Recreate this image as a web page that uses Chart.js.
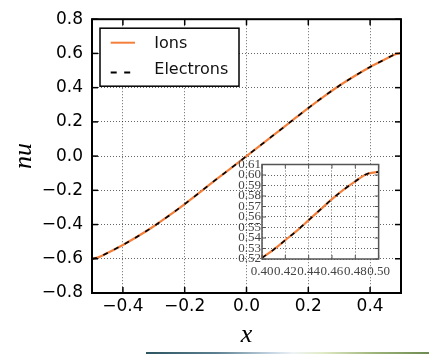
<!DOCTYPE html>
<html><head><meta charset="utf-8">
<script src="https://cdn.jsdelivr.net/npm/chart.js@4"></script>
<style>
html,body{margin:0;padding:0;background:#fff;}
#wrap{position:relative;width:429px;height:354px;overflow:hidden;background:#fff;}
#main{position:absolute;left:0;top:0;}
#inset{position:absolute;left:225px;top:150px;}
#bar{position:absolute;left:146px;top:352px;width:283px;height:2px;
background:linear-gradient(to right,#2c5560 0%,#5d8090 25%,#c9d8e6 45%,#eef3f6 52%,#e2ecc8 62%,#9fb67c 80%,#6d8a52 100%);}
</style></head><body>
<div id="wrap">
<canvas id="main" width="429" height="354"></canvas>
<canvas id="inset" width="170" height="135"></canvas>
<div id="bar"></div>
</div>
<script>
// ---- data ----
const seriesNames = ['Ions', 'Electrons'];
const xMain = [-0.5, -0.48, -0.45, -0.4, -0.35, -0.3, -0.25, -0.2, -0.15, -0.1, -0.05, 0, 0.05, 0.1, 0.15, 0.2, 0.25, 0.3, 0.35, 0.4, 0.45, 0.48, 0.5];
const ionsMain = [-0.600, -0.592, -0.566, -0.519, -0.467, -0.410, -0.347, -0.280, -0.210, -0.139, -0.070, 0.000, 0.070, 0.140, 0.211, 0.281, 0.348, 0.411, 0.468, 0.521, 0.567, 0.594, 0.603];
const electronsMain = [-0.600, -0.592, -0.566, -0.519, -0.467, -0.410, -0.347, -0.280, -0.210, -0.139, -0.070, 0.000, 0.070, 0.140, 0.211, 0.281, 0.348, 0.411, 0.468, 0.521, 0.567, 0.594, 0.603];
const xInset = [0.40, 0.41, 0.42, 0.43, 0.44, 0.45, 0.46, 0.47, 0.48, 0.49, 0.50];
const ionsInset = [0.521, 0.529, 0.538, 0.547, 0.557, 0.567, 0.577, 0.586, 0.594, 0.601, 0.603];
const electronsInset = [0.521, 0.529, 0.538, 0.547, 0.557, 0.567, 0.577, 0.586, 0.594, 0.601, 0.603];
const xTicksMain = [-0.4, -0.2, 0.0, 0.2, 0.4];
const yTicksMain = [-0.8, -0.6, -0.4, -0.2, 0.0, 0.2, 0.4, 0.6, 0.8];
const xTicksInset = [0.40, 0.42, 0.44, 0.46, 0.48, 0.50];
const yTicksInset = [0.52, 0.53, 0.54, 0.55, 0.56, 0.57, 0.58, 0.59, 0.60, 0.61];

// ---- styles ----
const ORANGE = 'rgb(244,127,58)';
Chart.defaults.font.family = 'DejaVu Sans';
Chart.defaults.animation = false;

const pts = (xs, ys) => xs.map((x, i) => ({x: x, y: ys[i]}));
const fmt1 = v => (Math.abs(v) < 1e-9 ? '0.0' : v.toFixed(1).replace('-', '\u2212'));
const fmt2 = v => v.toFixed(2);

function makeDatasets(xs, ions, elec) {
  return [
    {label: seriesNames[0], data: pts(xs, ions), borderColor: ORANGE, borderWidth: 2.2,
     pointRadius: 0, cubicInterpolationMode: 'monotone', order: 1, fill: false},
    {label: seriesNames[1], data: pts(xs, elec), borderColor: '#000', borderWidth: 1.6,
     borderDash: [5, 7], legendDash: [6, 7.5], pointRadius: 0, cubicInterpolationMode: 'monotone', order: 0, fill: false}
  ];
}

const bgPlugin = {
  id: 'areaBg',
  beforeDraw(chart, args, opts) {
    if (!opts.color) return;
    const {ctx, chartArea: a} = chart;
    ctx.save(); ctx.fillStyle = opts.color;
    ctx.fillRect(a.left, a.top, a.right - a.left, a.bottom - a.top);
    ctx.restore();
  }
};

const framePlugin = {
  id: 'frameTicks',
  afterDatasetsDraw(chart, args, opts) {
    const {ctx, chartArea: a, scales: {x, y}} = chart;
    ctx.save();
    if (opts.legend) {
      const lg = opts.legend;
      const lx = a.left + lg.dx, ly = a.top + lg.dy;
      ctx.fillStyle = '#fff';
      ctx.fillRect(lx, ly, lg.w, lg.h);
      ctx.strokeStyle = '#000'; ctx.lineWidth = 1.5; ctx.setLineDash([]);
      ctx.strokeRect(lx, ly, lg.w, lg.h);
      chart.data.datasets.forEach((ds, i) => {
        const yy = ly + lg.rows[i];
        ctx.save();
        ctx.strokeStyle = ds.borderColor; ctx.lineWidth = 2;
        ctx.setLineDash(ds.legendDash || ds.borderDash || []);
        ctx.beginPath(); ctx.moveTo(lx + lg.sx0, yy + lg.lineOff[i]); ctx.lineTo(lx + lg.sx1, yy + lg.lineOff[i]); ctx.stroke();
        ctx.restore();
        ctx.fillStyle = '#111'; ctx.font = lg.font; ctx.textBaseline = 'middle'; ctx.textAlign = 'left';
        ctx.fillText(ds.label, lx + lg.tx, yy);
      });
    }
    ctx.setLineDash([]);
    ctx.strokeStyle = opts.color; ctx.lineWidth = opts.tickWidth;
    const L = opts.len;
    const seg = (x1, y1, x2, y2) => { ctx.beginPath(); ctx.moveTo(x1, y1); ctx.lineTo(x2, y2); ctx.stroke(); };
    x.ticks.forEach(t => { const p = x.getPixelForValue(t.value); seg(p, a.bottom, p, a.bottom - L); seg(p, a.top, p, a.top + L); });
    y.ticks.forEach(t => { const p = y.getPixelForValue(t.value); seg(a.left, p, a.left + L, p); seg(a.right, p, a.right - L, p); });
    ctx.lineWidth = opts.frameWidth;
    ctx.strokeRect(a.left, a.top, a.right - a.left, a.bottom - a.top);
    ctx.restore();
  }
};

const gridDotted = {color: 'rgba(0,0,0,0.6)', lineWidth: 1, drawTicks: false};

// ---- main chart ----
new Chart(document.getElementById('main'), {
  type: 'line',
  data: {datasets: makeDatasets(xMain, ionsMain, electronsMain)},
  plugins: [bgPlugin, framePlugin],
  options: {
    responsive: false,
    layout: {padding: {left: 0, top: 16, right: 28, bottom: 0}},
    plugins: {
      legend: {display: false}, tooltip: {enabled: false},
      areaBg: {color: '#fff'},
      frameTicks: {color: '#000', len: 6, tickWidth: 1.5, frameWidth: 2,
        legend: {dx: 8, dy: 9, w: 139, h: 58, rows: [15.5, 41.7], lineOff: [-1, 2.5],
                 sx0: 10.7, sx1: 35, tx: 54.3, font: '16px "DejaVu Sans"'}}
    },
    scales: {
      x: {type: 'linear', min: -0.5, max: 0.5,
        afterBuildTicks: s => { s.ticks = xTicksMain.map(v => ({value: v})); },
        afterFit: s => { s.height = 61; },
        grid: gridDotted, border: {display: false, dash: [1, 2]},
        ticks: {autoSkip: false, maxRotation: 0, padding: 3, color: '#000', font: {size: 17}, callback: v => fmt1(v)},
        title: {display: true, text: 'x', color: '#000', padding: {top: 0, bottom: 3},
          font: {family: 'Liberation Serif', style: 'italic', size: 26}}
      },
      y: {type: 'linear', min: -0.8, max: 0.8,
        afterBuildTicks: s => { s.ticks = yTicksMain.map(v => ({value: v})); },
        afterFit: s => { s.width = 92; },
        grid: gridDotted, border: {display: false, dash: [1, 2]},
        ticks: {autoSkip: false, padding: 9, color: '#000', font: {size: 17}, callback: v => fmt1(v)},
        title: {display: true, text: 'nu', color: '#000', padding: {top: 9, bottom: 0},
          font: {family: 'Liberation Serif', style: 'italic', size: 26}}
      }
    }
  }
});

// ---- inset chart ----
new Chart(document.getElementById('inset'), {
  type: 'line',
  data: {datasets: makeDatasets(xInset, ionsInset, electronsInset)},
  plugins: [bgPlugin, framePlugin],
  options: {
    responsive: false,
    layout: {padding: {left: 0, top: 14.5, right: 10, bottom: 0}},
    plugins: {
      legend: {display: false}, tooltip: {enabled: false},
      areaBg: {color: '#fff'},
      frameTicks: {color: '#555', len: 4, tickWidth: 1, frameWidth: 1.5}
    },
    scales: {
      x: {type: 'linear', min: 0.40, max: 0.50,
        afterBuildTicks: s => { s.ticks = xTicksInset.map(v => ({value: v})); },
        afterFit: s => { s.height = 26; },
        grid: gridDotted, border: {display: false, dash: [1, 2]},
        ticks: {autoSkip: false, maxRotation: 0, minRotation: 0, padding: 5, color: '#444',
          font: {family: 'Liberation Serif', size: 13}, callback: v => fmt2(v)}
      },
      y: {type: 'linear', min: 0.52, max: 0.61,
        afterBuildTicks: s => { s.ticks = yTicksInset.map(v => ({value: v})); },
        afterFit: s => { s.width = 37; },
        grid: gridDotted, border: {display: false, dash: [1, 2]},
        ticks: {autoSkip: false, padding: 1, color: '#444',
          font: {family: 'Liberation Serif', size: 13}, callback: v => fmt2(v)}
      }
    }
  }
});
</script>
</body></html>
